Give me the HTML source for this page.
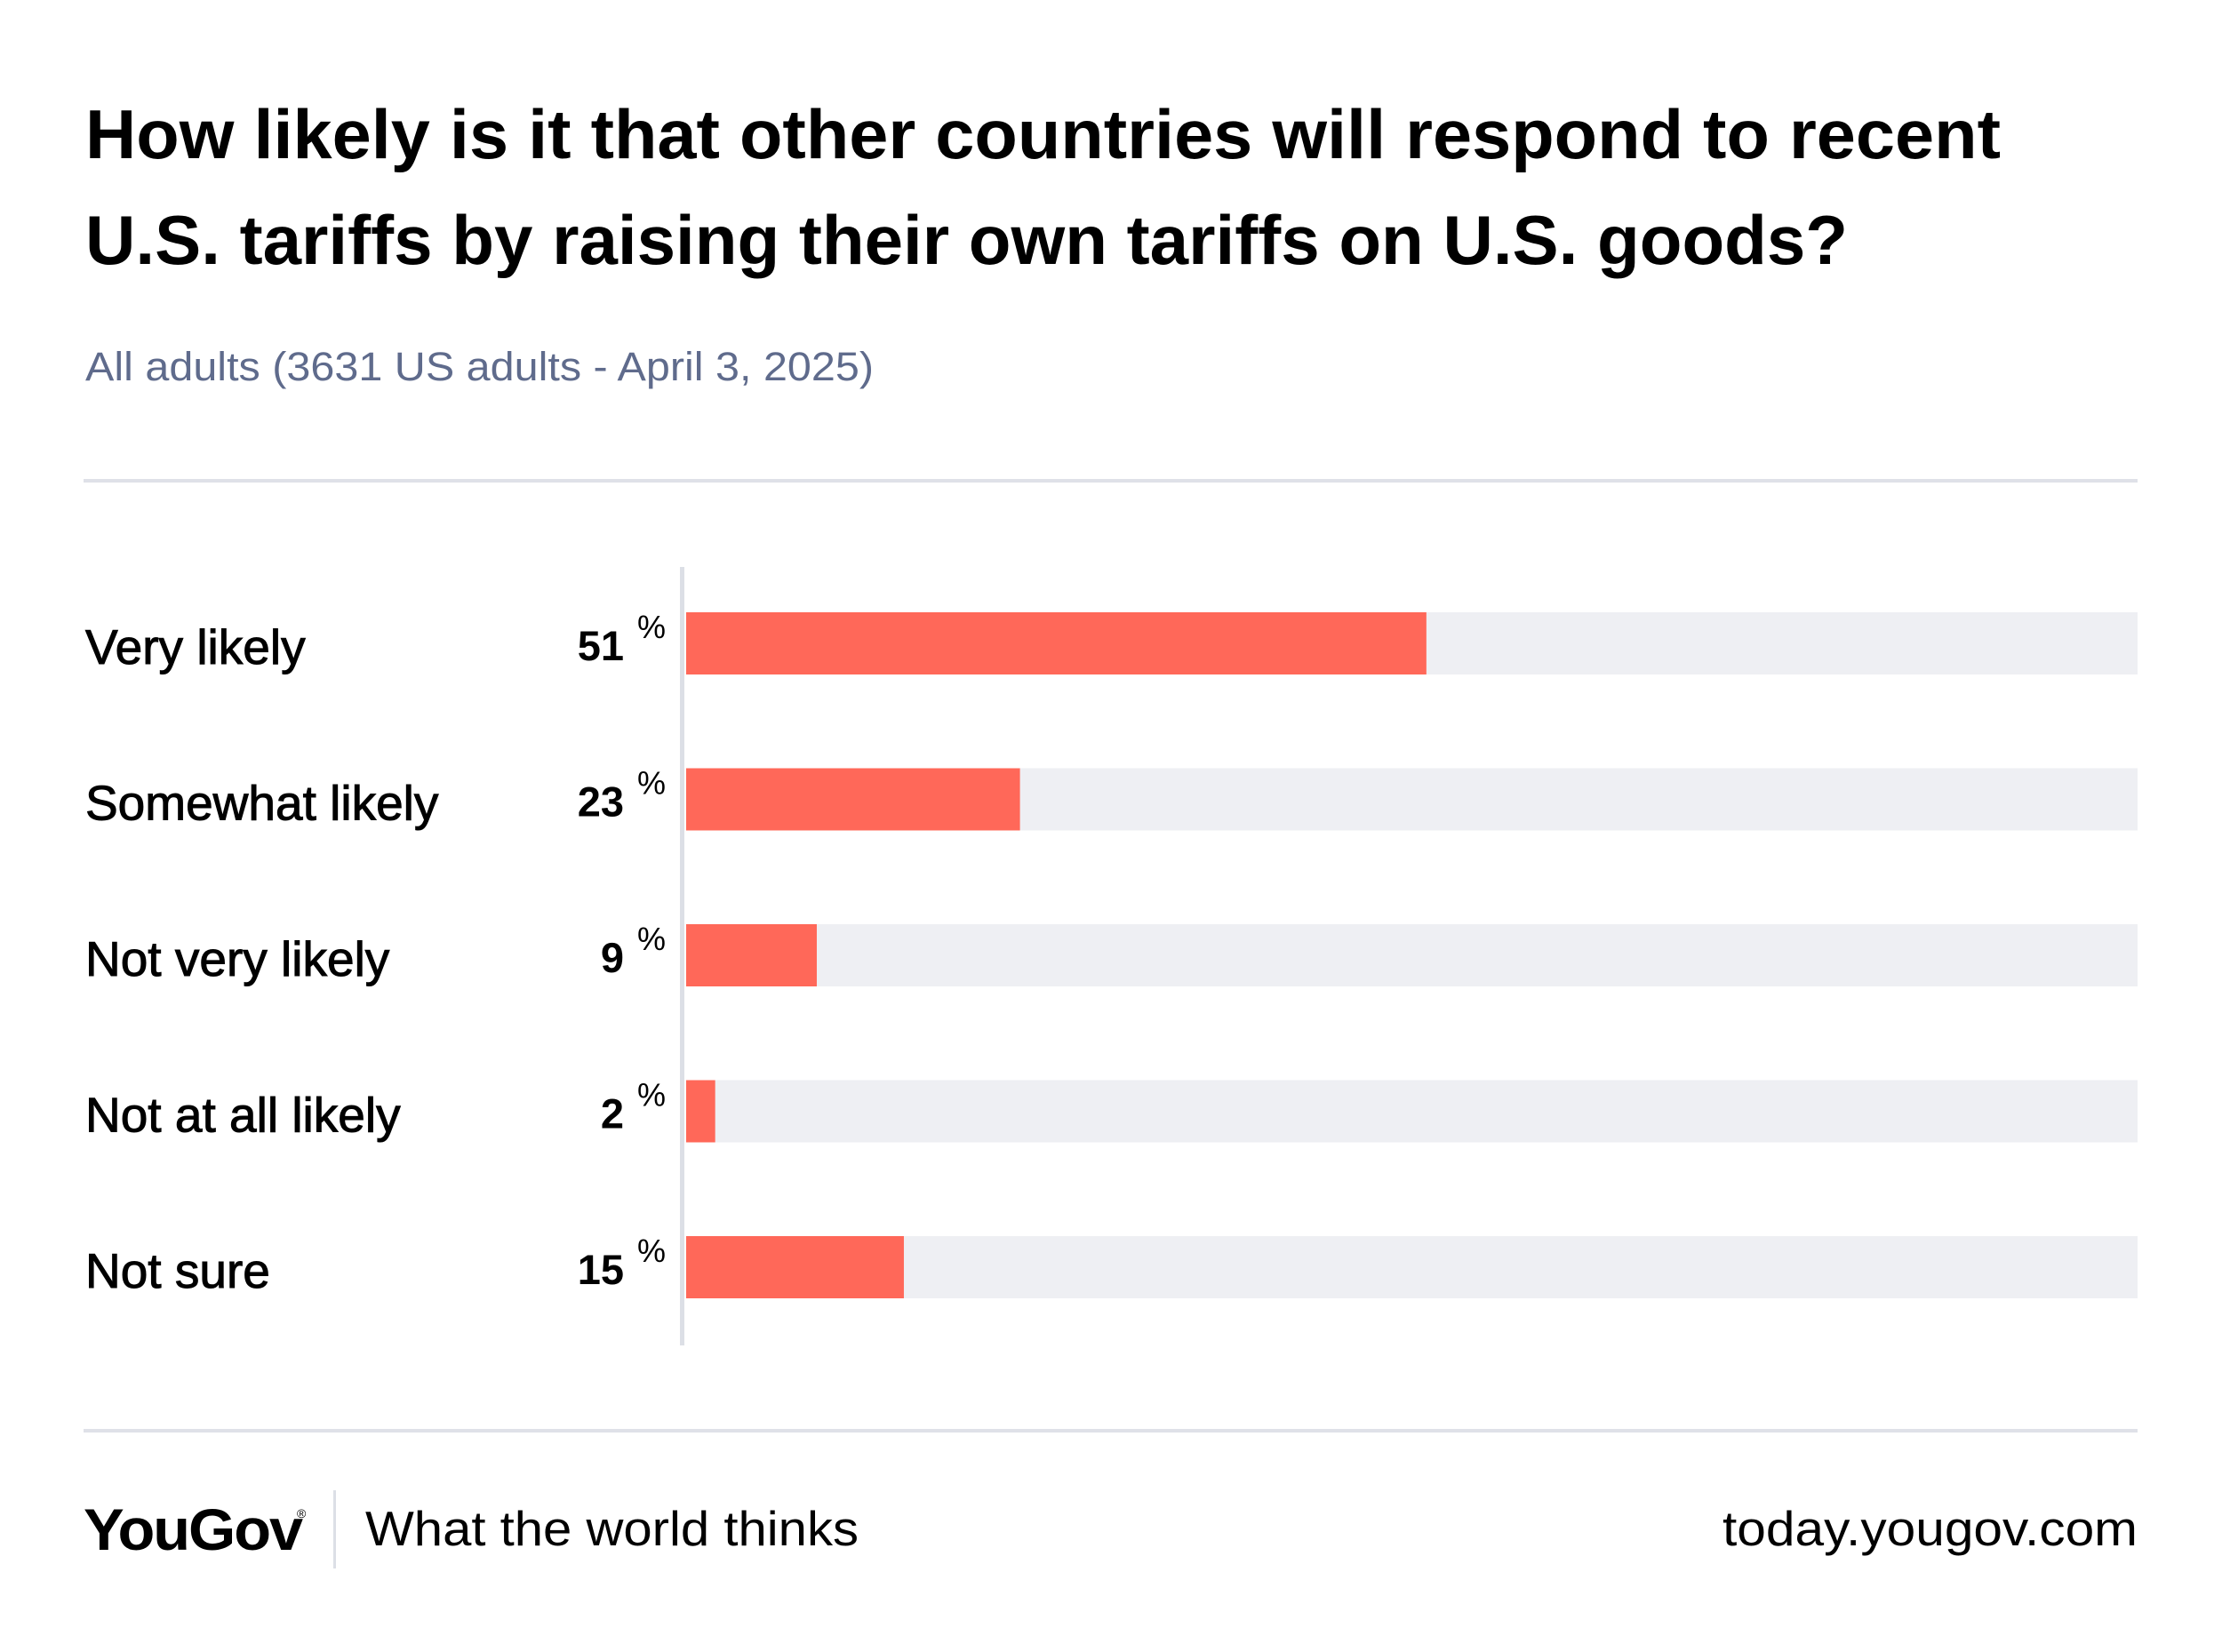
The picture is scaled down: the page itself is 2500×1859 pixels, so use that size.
<!DOCTYPE html>
<html><head><meta charset="utf-8"><style>
html,body{margin:0;padding:0;background:#fff;}
svg{display:block;}
text{font-family:"Liberation Sans",sans-serif;}
</style></head><body>
<svg id="chart" width="2500" height="1859" viewBox="0 0 2500 1859" xmlns="http://www.w3.org/2000/svg">
<text x="96" y="178" font-size="78" font-weight="bold" fill="#000" textLength="2155" lengthAdjust="spacingAndGlyphs">How likely is it that other countries will respond to recent</text>
<text x="96" y="297" font-size="78" font-weight="bold" fill="#000" textLength="1983" lengthAdjust="spacingAndGlyphs">U.S. tariffs by raising their own tariffs on U.S. goods?</text>
<text x="96" y="428" font-size="45" fill="#5f6b8c" textLength="887" lengthAdjust="spacingAndGlyphs">All adults (3631 US adults - April 3, 2025)</text>
<rect x="94" y="539" width="2311" height="4" fill="#dfe1e8"/>
<g id="bars"></g>
<rect x="765" y="638" width="5" height="876" fill="#dcdfe6"/>
<rect x="94" y="1608" width="2311" height="4" fill="#dfe1e8"/>
<text x="94" y="1744" font-size="66" font-weight="bold" fill="#000" textLength="245" lengthAdjust="spacingAndGlyphs" letter-spacing="-2">YouGov</text>
<text x="334" y="1708" font-size="14" fill="#000">®</text>
<rect x="375" y="1677" width="3" height="88" fill="#dcdfe6"/>
<text x="411" y="1739" font-size="55" fill="#000" textLength="555" lengthAdjust="spacingAndGlyphs">What the world thinks</text>
<text x="2405" y="1739" font-size="55" fill="#000" text-anchor="end" textLength="467" lengthAdjust="spacingAndGlyphs">today.yougov.com</text>
</svg>
<script>
const categories = ["Very likely","Somewhat likely","Not very likely","Not at all likely","Not sure"];
const values = [51,23,9,2,15];
const xMax = 100;
const x0 = 772, x1 = 2405, rowTop = 724, rowStep = 175.5, barH = 70;
function xScale(v){ return x0 + (v / xMax) * (x1 - x0); }
function yCenter(i){ return rowTop + i * rowStep; }
const ns = "http://www.w3.org/2000/svg";
const g = document.getElementById('bars');
function mk(tag, attrs){ const e = document.createElementNS(ns, tag); for (const k in attrs) e.setAttribute(k, attrs[k]); return e; }
categories.forEach((c, i) => {
  const cy = yCenter(i);
  const bg = mk('rect', {x: x0, y: cy - barH/2, width: x1 - x0, height: barH, fill: '#eeeff3'});
  
  
  g.appendChild(bg);
  const b = mk('rect', {x: x0, y: cy - barH/2, width: xScale(values[i]) - x0, height: barH, fill: '#ff6859'});
  
  
  g.appendChild(b);
  const lab = mk('text', {x: 96, y: cy + 23, 'font-size': 55, fill: '#000', stroke: '#000', 'stroke-width': 1});
  lab.textContent = c;
  
  
  g.appendChild(lab);
  const val = mk('text', {x: 702, y: cy + 19, 'font-size': 47, 'font-weight': 'bold', fill: '#000', 'text-anchor': 'end'});
  val.textContent = values[i];
  
  
  g.appendChild(val);
  const pct = mk('text', {x: 717, y: cy - 6, 'font-size': 36, fill: '#000'});
  pct.textContent = '%';
  
  
  g.appendChild(pct);
});
</script>
</body></html>
